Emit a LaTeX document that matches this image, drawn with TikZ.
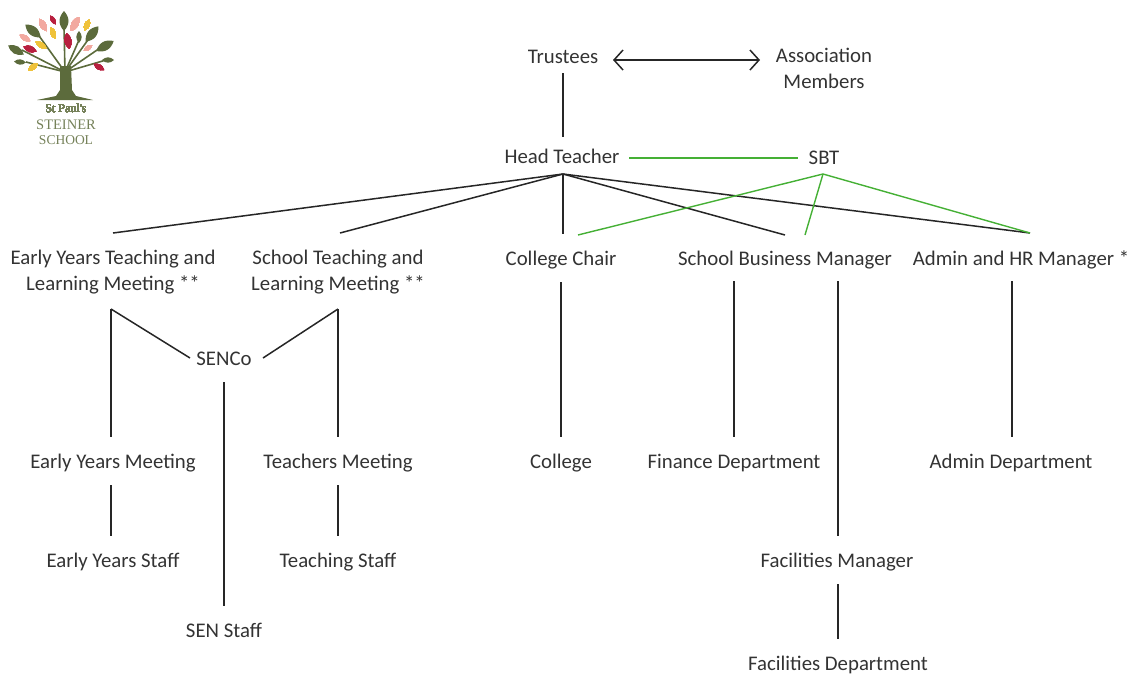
\documentclass[tikz,border=0pt]{standalone}
\usepackage{fontspec}
\setmainfont{Carlito}
\newfontfamily\logofont{Liberation Serif}
\usetikzlibrary{arrows.meta}
\definecolor{txtgrey}{HTML}{333333}
\definecolor{sbtgreen}{HTML}{45B035}
\definecolor{treegreen}{HTML}{5C6B3C}
\definecolor{leafred}{HTML}{B8203F}
\definecolor{leafpink}{HTML}{F2A9A0}
\definecolor{leafyellow}{HTML}{EFC23A}
\tikzset{
  lbl/.style={inner sep=0pt,text=txtgrey,font=\fontsize{20.8}{26}\selectfont,align=center},
  row/.style={lbl,anchor=base,text height=31pt,text depth=17pt},
  link/.style={line width=1.5pt,black!85},
  sbtlink/.style={line width=1.4pt,sbtgreen},
  logotxt/.style={inner sep=0pt,text=treegreen!85,font=\logofont\fontsize{#1}{#1}\selectfont},
}
\newcommand{\leaf}[5]{\fill[#1,shift={(#2,#3)},rotate=#4] (-#5,0) .. controls (-#5/3,#5*.6) and (#5/3,#5*.6) .. (#5,0) .. controls (#5/3,-#5*.6) and (-#5/3,-#5*.6) .. (-#5,0) -- cycle;}
\begin{document}
\begin{tikzpicture}[x=1pt,y=-1pt]
      \useasboundingbox (0,0) rectangle (1133,673);

      % logo
      \fill[treegreen] (60,66) -- (60,90) -- (56,96) -- (37,100) -- (93,100) -- (76,96) -- (72,90) -- (71,66) -- cycle;
      \foreach \xa/\ya in {64/25,37/33,90/37,100/48,22/50,79/40,26/62,106/60}
        \draw[treegreen,line width=1.6pt] (65,72) -- (\xa,\ya);
      \foreach \xa/\ya/\ang/\len in {64/21/90/10,33/31/140/10,92/34/50/10,105/46/30/10,16/50/150/9,79/37/90/6,20/62/175/6,108/60/0/6}
        \leaf{treegreen}{\xa}{\ya}{\ang}{\len}
      \foreach \xa/\ya/\ang/\len in {53/20/120/5,30/49/160/7,68/41/100/8,99/67/150/6}
        \leaf{leafred}{\xa}{\ya}{\ang}{\len}
      \foreach \xa/\ya/\ang/\len in {43/25/120/7,75/24/60/8,25/38/150/6,88/48/35/5}
        \leaf{leafpink}{\xa}{\ya}{\ang}{\len}
      \foreach \xa/\ya/\ang/\len in {87/25/65/6,53/33/110/6,41/45/150/6,33/67/35/6}
        \leaf{leafyellow}{\xa}{\ya}{\ang}{\len}
      \node[logotxt=12] (stpauls) at (66,108) {St Paul's};
      \node[logotxt=14.5] (steiner) at (66,125) {STEINER};
      \node[logotxt=13.5] (school) at (66,140) {SCHOOL};

      % top of the tree
      \node[lbl,anchor=base,text height=26pt,text depth=10pt] (T) at (563,63) {Trustees};
      \node[lbl] (M) at (824,68) {Association\\Members};
      \node[lbl,anchor=base,text height=26pt,text depth=4pt] (H) at (562,163) {Head Teacher};
      \node[lbl] (S) at (824,158) {SBT};

      % second row
      \node[lbl] (EYT) at (113,272) {Early Years Teaching and\\Learning Meeting **};
      \node[lbl] (STM) at (338,272) {School Teaching and\\Learning Meeting **};
      \node[row] (CC) at (561,265) {College Chair};
      \node[row] (SBM) at (785,265) {School Business Manager};
      \node[row] (AHR) at (1021,265) {Admin and HR Manager *};

      \node[row] (SEN) at (224,365) {SENCo};

      % third row
      \node[row] (EYM) at (113,468) {Early Years Meeting};
      \node[row] (TM) at (338,468) {Teachers Meeting};
      \node[row] (C) at (561,468) {College};
      \node[row] (FD) at (734,468) {Finance Department};
      \node[row] (AD) at (1011,468) {Admin Department};

      % bottom rows
      \node[row] (EYS) at (113,567) {Early Years Staff};
      \node[row] (TS) at (338,567) {Teaching Staff};
      \node[row] (FM) at (837,567) {Facilities Manager};
      \node[row] (SS) at (224,637) {SEN Staff};
      \node[row] (FAD) at (838,670) {Facilities Department};

      % free ends
      \coordinate (arrL) at (613,60);
      \coordinate (arrR) at (760,60);
      \coordinate (Hp) at (563,174);
      \coordinate (Sp) at (823,174);
      \coordinate (EYTt) at (113,233);
      \coordinate (STMt) at (340,233);
      \coordinate (SBMt) at (785,235);
      \coordinate (AHRt) at (1030,233);
      \coordinate (CCg) at (578,235);
      \coordinate (SBMg) at (805,235);
      \coordinate (EYTb) at (111,309);
      \coordinate (STMb) at (338,309);
      \coordinate (SENl) at (190,358);
      \coordinate (SENr) at (263,358);
      \coordinate (SBMl) at (734,281);
      \coordinate (SBMr) at (838,281);
      \coordinate (AHRb) at (1012,281);
      \coordinate (HGr) at (629,158);
      \coordinate (SGl) at (798,158);

      \draw[link,{Straight Barb[length=9pt,width=20pt]}-{Straight Barb[length=9pt,width=20pt]}] (arrL) -- (arrR);
      \draw[link] (T) -- (T |- H.north);
      \draw[link] (Hp) -- (EYTt);
      \draw[link] (Hp) -- (STMt);
      \draw[link] (Hp) -- (Hp |- CC.north);
      \draw[link] (Hp) -- (SBMt);
      \draw[link] (Hp) -- (AHRt);
      \draw[sbtlink] (HGr) -- (SGl);
      \draw[sbtlink] (Sp) -- (CCg);
      \draw[sbtlink] (Sp) -- (SBMg);
      \draw[sbtlink] (Sp) -- (AHRt);
      \draw[link] (EYTb) -- (SENl);
      \draw[link] (STMb) -- (SENr);
      \draw[link] (EYTb) -- (EYTb |- EYM.north);
      \draw[link] (STMb) -- (TM);
      \draw[link] (CC) -- (C);
      \draw[link] (SBMl) -- (FD);
      \draw[link] (SBMr) -- (SBMr |- FM.north);
      \draw[link] (AHRb) -- (AHRb |- AD.north);
      \draw[link] (EYM.south -| EYTb) -- (EYTb |- EYS.north);
      \draw[link] (TM) -- (TS);
      \draw[link] (SEN) -- (SS);
      \draw[link] (FM.south -| SBMr) -- (SBMr |- FAD.north);
    \end{tikzpicture}
\end{document}
